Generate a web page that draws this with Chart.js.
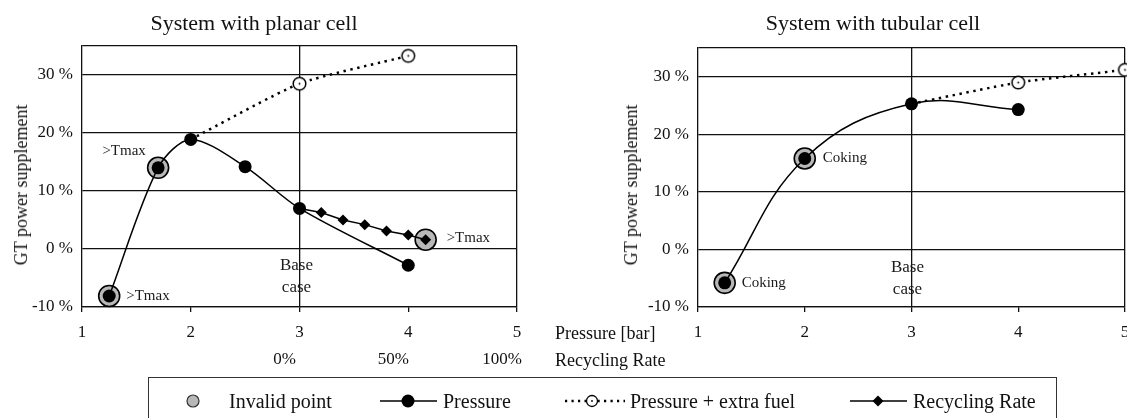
<!DOCTYPE html>
<html><head><meta charset="utf-8">
<script src="https://cdn.jsdelivr.net/npm/chart.js@4.4.1/dist/chart.umd.min.js"></script>
<style>
body{margin:0;width:1127px;height:418px;overflow:hidden;background:#fff;font-family:'Liberation Serif','Times New Roman',serif;color:#111;position:relative}
canvas{position:absolute;top:0}
.t{position:absolute;white-space:nowrap;line-height:1}
</style></head><body>
<canvas id="c1" width="560" height="372" style="left:0"></canvas>
<canvas id="c2" width="590" height="372" style="left:560px"></canvas>

<div class="t" style="left:254px;top:12px;font-size:22px;transform:translateX(-50%)">System with planar cell</div>
<div class="t" style="left:873px;top:12px;font-size:22px;transform:translateX(-50%)">System with tubular cell</div>
<div class="t" style="left:21px;top:185px;font-size:18px;transform:translate(-50%,-50%) rotate(-90deg)">GT power supplement</div>
<div class="t" style="left:631px;top:185px;font-size:18px;transform:translate(-50%,-50%) rotate(-90deg)">GT power supplement</div>
<div class="t" style="left:555px;top:324px;font-size:18px">Pressure [bar]</div>
<div class="t" style="left:555px;top:351px;font-size:18px">Recycling Rate</div>

<div style="position:absolute;left:148px;top:377px;width:909px;height:60px;border:1.5px solid #333;box-sizing:border-box"></div>
<svg style="position:absolute;left:0;top:0" width="1127" height="418">
  <circle cx="193" cy="401" r="6" fill="#b8b8b8" stroke="#333" stroke-width="1.2"/>
  <line x1="380" y1="401" x2="437" y2="401" stroke="#000" stroke-width="1.5"/>
  <circle cx="408" cy="401" r="6.5" fill="#000"/>
  <line x1="565" y1="401" x2="625" y2="401" stroke="#000" stroke-width="2.4" stroke-dasharray="2.2 4.3"/>
  <circle cx="592" cy="401" r="5.5" fill="#fff" stroke="#000" stroke-width="1.3"/>
  <circle cx="592" cy="401" r="0.9" fill="#000"/>
  <line x1="850" y1="401" x2="907" y2="401" stroke="#000" stroke-width="1.5"/>
  <polygon points="878,395.5 883.5,401 878,406.5 872.5,401" fill="#000"/>
</svg>
<div class="t" style="left:229px;top:391px;font-size:20px">Invalid point</div>
<div class="t" style="left:443px;top:391px;font-size:20px">Pressure</div>
<div class="t" style="left:630px;top:391px;font-size:20px">Pressure + extra fuel</div>
<div class="t" style="left:913px;top:391px;font-size:20px">Recycling Rate</div>

<script>
// ---- data ----
const pressureTicks = [1, 2, 3, 4, 5];
const yTicks = [-10, 0, 10, 20, 30];
const yMin = -10, yMax = 35;
const recycleTicks = [0, 50, 100];

// planar cell
const planarPressureX = [1.25, 1.7, 2, 2.5, 3, 4];
const planarPressureY = [-8.1, 14.0, 18.9, 14.2, 7.0, -2.8];
const planarFuelX = [2, 3, 4];
const planarFuelY = [18.9, 28.5, 33.3];
const planarRecycleRate = [0, 10, 20, 30, 40, 50, 58];
const planarRecycleY = [7.0, 6.3, 5.0, 4.2, 3.1, 2.4, 1.6];
const planarInvalidPressureX = [1.25, 1.7];
const planarInvalidRecycleRate = [58];

// tubular cell
const tubularPressureX = [1.25, 2, 3, 4];
const tubularPressureY = [-5.8, 15.8, 25.3, 24.3];
const tubularFuelX = [3, 4, 5];
const tubularFuelY = [25.3, 29.0, 31.2];
const tubularInvalidPressureX = [1.25, 2];

// ---- helpers ----
const FONT = "'Liberation Serif','Times New Roman',serif";
Chart.defaults.font.family = FONT;
Chart.defaults.color = '#111';

const pts = (xs, ys) => xs.map((x, i) => ({x, y: ys[i]}));
const pick = (sel, xs, ys) => sel.map(v => ({x: v, y: ys[xs.indexOf(v)]}));

function openDot(r) {
  const c = document.createElement('canvas');
  const s = Math.ceil(r * 2 + 4);
  c.width = s; c.height = s;
  const g = c.getContext('2d');
  g.beginPath(); g.arc(s / 2, s / 2, r, 0, Math.PI * 2);
  g.fillStyle = '#fff'; g.fill();
  g.lineWidth = 1.5; g.strokeStyle = '#000'; g.stroke();
  g.beginPath(); g.arc(s / 2, s / 2, 0.9, 0, Math.PI * 2);
  g.fillStyle = '#000'; g.fill();
  return c;
}
const fuelImg = openDot(6.3);

const annot = {
  id: 'annot',
  afterDatasetsDraw(chart, args, opts) {
    const {ctx, scales} = chart;
    ctx.save();
    ctx.fillStyle = '#1a1a1a';
    ctx.textBaseline = 'middle';
    for (const a of opts.items) {
      const px = scales[a.axis || 'x'].getPixelForValue(a.x) + a.dx;
      const py = scales.y.getPixelForValue(a.y) + a.dy;
      ctx.font = a.size + 'px ' + FONT;
      ctx.textAlign = a.align;
      ctx.fillText(a.text, px, py);
    }
    ctx.restore();
  }
};

function pressureDS(data, tension) {
  return {label: 'Pressure', data, borderColor: '#000', borderWidth: 1.5, tension,
    pointRadius: 6.5, pointBackgroundColor: '#000', pointBorderWidth: 0, order: 1, clip: false};
}
function fuelDS(data, tension) {
  return {label: 'Pressure + extra fuel', data, borderColor: '#000', borderWidth: 2.5,
    borderDash: [2.4, 4.6], tension, pointStyle: fuelImg,
    pointRadius: c => c.dataIndex === 0 ? 0 : 6.5, order: 3, clip: false};
}
function invalidDS(data, axis) {
  return {label: 'Invalid point', data, xAxisID: axis || 'x', showLine: false,
    pointRadius: 10.5, pointBackgroundColor: '#b8b8b8', pointBorderColor: '#000',
    pointBorderWidth: 1.6, order: 10, clip: false};
}

function scalesFor(yWidth, xHeight, withRecycle) {
  const s = {
    x: {
      type: 'linear', min: 1, max: 5, position: 'bottom', weight: 1,
      afterBuildTicks: a => { a.ticks = pressureTicks.map(v => ({value: v})); },
      afterFit: sc => { sc.height = xHeight; sc.paddingLeft = 0; sc.paddingRight = 0; },
      grid: {
        color: c => (c.tick && (c.tick.value === 3 || c.tick.value === 5)) ? '#111' : 'rgba(0,0,0,0)',
        lineWidth: 1.3, tickColor: '#111', tickLength: 5, drawTicks: true
      },
      border: {color: '#111', width: 1.3},
      ticks: {font: {size: 17}, color: '#111', padding: 10, maxRotation: 0, autoSkip: false,
        callback: v => String(v)}
    },
    y: {
      type: 'linear', min: yMin, max: yMax,
      afterBuildTicks: a => { a.ticks = yTicks.concat([yMax]).map(v => ({value: v})); },
      afterFit: sc => { sc.width = yWidth; sc.paddingTop = 0; sc.paddingBottom = 0; },
      grid: {color: '#111', lineWidth: 1.3, drawTicks: false},
      border: {color: '#111', width: 1.3},
      ticks: {font: {size: 17}, color: '#111', padding: 9,
        callback: v => yTicks.includes(v) ? v + ' %' : ''}
    }
  };
  if (withRecycle) {
    s.x2 = {
      type: 'linear', min: -100, max: 100, position: 'bottom', weight: 10,
      afterBuildTicks: a => { a.ticks = recycleTicks.map(v => ({value: v})); },
      afterFit: sc => { sc.height = withRecycle; sc.paddingLeft = 0; sc.paddingRight = 0; },
      grid: {display: false, drawTicks: false},
      border: {display: false},
      ticks: {font: {size: 17}, color: '#111', padding: 2, labelOffset: -15, maxRotation: 0,
        autoSkip: false, callback: v => v + '%'}
    };
  }
  return s;
}

const common = {
  responsive: false, animation: false, devicePixelRatio: 1,
  plugins: {legend: {display: false}, tooltip: {enabled: false}, title: {display: false}},
  events: []
};

// ---- planar chart ----
new Chart(document.getElementById('c1'), {
  type: 'line',
  data: {datasets: [
    pressureDS(pts(planarPressureX, planarPressureY), 0.3),
    fuelDS(pts(planarFuelX, planarFuelY), 0.2),
    {label: 'Recycling Rate', data: pts(planarRecycleRate, planarRecycleY), xAxisID: 'x2',
      borderColor: '#000', borderWidth: 1.5, tension: 0, pointStyle: 'rectRot',
      pointRadius: 5.5, pointBackgroundColor: '#000', pointBorderWidth: 0, order: 2, clip: false},
    invalidDS(pick(planarInvalidPressureX, planarPressureX, planarPressureY)),
    invalidDS(pick(planarInvalidRecycleRate, planarRecycleRate, planarRecycleY), 'x2')
  ]},
  options: Object.assign({}, common, {
    layout: {padding: {top: 46, right: 43, left: 0, bottom: 0}},
    scales: scalesFor(82, 40, 25),
    plugins: Object.assign({}, common.plugins, {annot: {items: [
      {text: '>Tmax', x: planarPressureX[0], y: planarPressureY[0], dx: 17, dy: 0, align: 'left', size: 15},
      {text: '>Tmax', x: planarPressureX[1], y: planarPressureY[1], dx: -34, dy: -17, align: 'center', size: 15},
      {text: '>Tmax', axis: 'x2', x: planarRecycleRate[6], y: planarRecycleY[6], dx: 21, dy: -2, align: 'left', size: 15},
      {text: 'Base', x: 3, y: 0, dx: -3, dy: 17, align: 'center', size: 17},
      {text: 'case', x: 3, y: 0, dx: -3, dy: 39, align: 'center', size: 17}
    ]}})
  }),
  plugins: [annot]
});

// ---- tubular chart (canvas runs past the window edge, as the reference is cropped) ----
new Chart(document.getElementById('c2'), {
  type: 'line',
  data: {datasets: [
    pressureDS(pts(tubularPressureX, tubularPressureY), 0.4),
    fuelDS(pts(tubularFuelX, tubularFuelY), 0.2),
    invalidDS(pick(tubularInvalidPressureX, tubularPressureX, tubularPressureY))
  ]},
  options: Object.assign({}, common, {
    layout: {padding: {top: 48, right: 25, left: 0, bottom: 0}},
    scales: scalesFor(138, 65, 0),
    plugins: Object.assign({}, common.plugins, {annot: {items: [
      {text: 'Coking', x: tubularPressureX[0], y: tubularPressureY[0], dx: 17, dy: 0, align: 'left', size: 15},
      {text: 'Coking', x: tubularPressureX[1], y: tubularPressureY[1], dx: 18, dy: 0, align: 'left', size: 15},
      {text: 'Base', x: 3, y: 0, dx: -4, dy: 18, align: 'center', size: 17},
      {text: 'case', x: 3, y: 0, dx: -4, dy: 40, align: 'center', size: 17}
    ]}})
  }),
  plugins: [annot]
});
</script>
</body></html>
